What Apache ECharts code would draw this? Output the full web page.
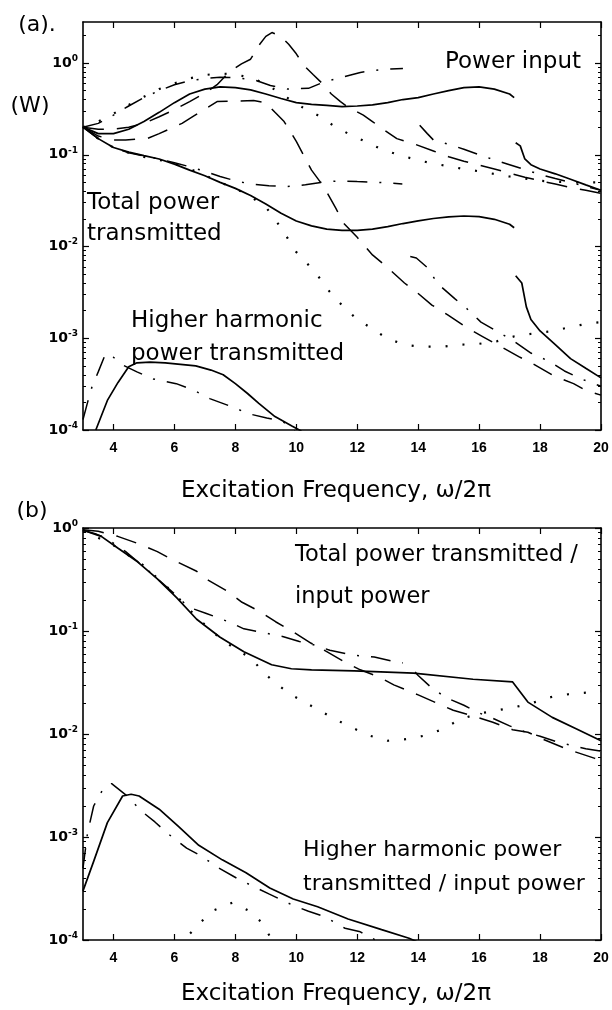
<!DOCTYPE html>
<html><head><meta charset="utf-8">
<script src="https://cdn.jsdelivr.net/npm/echarts@6/dist/echarts.min.js"></script>
<style>html,body{margin:0;padding:0;background:#fff}#c{width:612px;height:1010px}</style>
</head><body><div id="c"></div>
<script>
// ---------- tick values ----------
const freqTicks = [4, 6, 8, 10, 12, 14, 16, 18, 20];
const decadesA = [1e-4, 1e-3, 1e-2, 1e-1, 1];
const decadesB = [1e-4, 1e-3, 1e-2, 1e-1, 1];

// ---------- panel (a): power input ----------
const inSolidF = [3,3.5,4,4.5,5,5.5,6,6.5,7,7.5,8,8.5,9,9.5,10,10.5,11,11.5,12,12.5,13,13.5,14,14.5,15,15.5,16,16.5,17,17.15,17.17,17.2,17.35,17.5,17.7,18,18.5,19,19.5,20];
const inSolidV = [0.2,0.17,0.17,0.19,0.23,0.29,0.37,0.46,0.52,0.55,0.54,0.51,0.46,0.41,0.37,0.355,0.345,0.335,0.34,0.35,0.37,0.4,0.42,0.46,0.5,0.54,0.55,0.52,0.46,0.42,null,0.135,0.125,0.09,0.078,0.07,0.062,0.054,0.047,0.041];
const inDashF = [3,3.5,4,4.5,5,5.5,6,6.5,7,7.4,7.8,8.2,8.5,8.8,9.0,9.2,9.5,9.75,10.0,10.25,10.55,10.85,11.15,11.45,11.7,12.2,12.5,12.85,13.3,13.9,14.5,15,15.5,16,16.5,17,17.5,18,18.5,19,19.5,20];
const inDashV = [0.2,0.19,0.19,0.2,0.22,0.26,0.31,0.38,0.47,0.58,0.8,0.98,1.1,1.6,1.95,2.15,1.95,1.6,1.26,0.94,0.75,0.6,0.46,0.38,0.33,0.27,0.23,0.19,0.15,0.13,0.11,0.095,0.085,0.077,0.07,0.063,0.057,0.052,0.048,0.044,0.041,0.038];
const inDashDotF = [3,3.5,4,4.5,5,5.5,6,6.5,7,7.5,8,8.6,9.15,9.7,10.4,10.9,11.5,12.1,12.7,13.1,13.5,13.8,14.05,14.3,14.5,15,15.5,16,16.5,17,17.5,18,18.5,19,19.5,20];
const inDashDotV = [0.2,0.22,0.27,0.34,0.42,0.5,0.58,0.64,0.68,0.7,0.69,0.66,0.57,0.52,0.53,0.62,0.7,0.79,0.84,0.86,0.87,null,0.21,0.17,0.145,0.13,0.115,0.1,0.088,0.078,0.069,0.061,0.055,0.05,0.045,0.041];
const inDotF = [3,3.5,4,4.5,5,5.5,6,6.5,7,7.5,8,8.6,9.15,9.7,10.2,10.7,11.2,11.7,12.25,12.8,13.35,14,14.5,15,15.5,16,17,18,19,20];
const inDotV = [0.2,0.23,0.28,0.35,0.43,0.52,0.6,0.68,0.74,0.77,0.75,0.68,0.55,0.42,0.33,0.27,0.21,0.17,0.14,0.115,0.1,0.087,0.08,0.075,0.07,0.066,0.058,0.052,0.05,0.05];

// ---------- panel (a): total power transmitted ----------
const trSolidF = [3,3.5,4,4.5,5,5.5,6,6.5,7,7.5,8,8.5,9,9.5,10,10.5,11,11.5,12,12.5,13,13.5,14,14.5,15,15.5,16,16.5,17,17.15,17.17,17.2,17.4,17.55,17.7,18,18.5,19,19.5,20];
const trSolidV = [0.2,0.15,0.12,0.107,0.098,0.09,0.079,0.068,0.059,0.05,0.043,0.036,0.029,0.023,0.019,0.0168,0.0155,0.015,0.015,0.0155,0.0165,0.0178,0.019,0.0202,0.021,0.0215,0.0212,0.0198,0.0175,0.016,null,0.0048,0.004,0.0022,0.0016,0.0012,0.00085,0.0006,0.00047,0.00037];
const trDashF = [3,3.5,4,4.4,5.1,5.5,6.25,6.6,7.4,8.0,8.6,9.0,9.3,9.6,10,10.5,10.9,11.3,11.55,12,12.5,12.97,13.55,13.94,14.45,14.97,15.6,16.1,16.8,17.3,17.8,18.45,19.1,19.5,20];
const trDashV = [0.2,0.16,0.145,0.145,0.15,0.17,0.22,0.26,0.38,0.385,0.39,0.37,0.29,0.23,0.14,0.068,0.045,0.026,0.018,0.0126,0.0081,0.006,0.004,0.0032,0.0023,0.0018,0.0013,0.00105,0.00078,0.00063,0.00052,0.00039,0.00032,0.00027,0.00024];
const trDashDotF = [3,3.5,4,4.5,5,5.5,6,6.5,7,7.5,8,8.5,9.1,9.7,10.3,10.8,11.4,12,12.7,13.1,13.48,13.6,13.74,13.94,14.3,14.65,15.2,15.6,16.06,16.77,17.16,17.7,18.3,18.8,19.35,20];
const trDashDotV = [0.2,0.15,0.12,0.105,0.097,0.09,0.082,0.074,0.066,0.058,0.052,0.048,0.046,0.045,0.047,0.05,0.052,0.051,0.05,0.049,0.048,null,0.0078,0.0075,0.0059,0.0039,0.0027,0.0021,0.0015,0.0011,0.00092,0.00069,0.00056,0.00044,0.00036,0.0003];
const trDotF = [3,3.5,4,4.5,5,5.5,6,6.5,7,7.5,8,8.5,9,9.5,10,10.4,10.8,11.1,11.55,12,12.45,12.97,13.55,14.1,14.8,15.35,16,16.6,17.16,17.8,18.45,19,19.6,20];
const trDotV = [0.2,0.15,0.12,0.105,0.095,0.088,0.08,0.07,0.06,0.05,0.043,0.035,0.027,0.016,0.0087,0.0063,0.0044,0.0032,0.0022,0.0016,0.0013,0.001,0.00085,0.00081,0.00081,0.00085,0.00087,0.00093,0.00105,0.00113,0.0012,0.00133,0.00145,0.0015];

// ---------- panel (a): higher harmonic power transmitted ----------
const hhSolidF = [3.42,3.8,4.15,4.5,4.77,5.2,5.7,6.2,6.7,7.2,7.6,8.0,8.4,8.77,9.3,9.87,10.1,10.3];
const hhSolidV = [0.0001,0.00021,0.00033,0.00049,0.00054,0.00055,0.00054,0.00052,0.0005,0.00045,0.0004,0.00032,0.00025,0.000195,0.00014,0.00011,0.0001,0.00009];
const hhDashDotF = [3.0,3.15,3.3,3.5,3.74,4.0,4.26,4.77,5.3,6.06,6.65,7.16,7.87,8.45,9.03,9.55,9.9,10.2];
const hhDashDotV = [0.00013,0.0002,0.0003,0.00043,0.00068,0.00062,0.00052,0.00043,0.00036,0.00032,0.00027,0.00022,0.00018,0.00015,0.000135,0.000125,0.0001,0.00008];

// ---------- panel (b): total transmitted / input ----------
const rSolidF = [3,3.6,4.14,4.79,5.44,6.08,6.73,7.5,8.28,9.19,9.84,10.5,11.9,13.85,15.8,17.1,17.35,17.6,18.4,19.2,20];
const rSolidV = [0.95,0.83,0.64,0.47,0.32,0.21,0.13,0.087,0.063,0.047,0.043,0.042,0.041,0.039,0.034,0.032,0.0256,0.0204,0.0145,0.0112,0.0086];
const rDashF = [3,3.5,4.14,4.79,5.44,5.95,6.73,7.12,7.77,8.22,8.8,9.32,9.9,10.49,11.0,11.59,12.1,12.69,13.2,14,14.6,15.15,15.8,16.45,17.1,17.6,18.1,18.9,19.8,20];
const rDashV = [0.96,0.93,0.83,0.71,0.59,0.49,0.38,0.31,0.24,0.19,0.155,0.123,0.098,0.076,0.063,0.05,0.042,0.036,0.03,0.024,0.02,0.017,0.015,0.013,0.011,0.0104,0.0089,0.0071,0.0058,0.0055];
const rDashDotF = [3,3.4,3.75,4.4,5,5.5,6,6.47,7.05,7.77,8.28,8.8,9.58,10.1,10.6,11.1,11.9,12.56,13.27,13.5,13.7,13.9,14.0,14.5,15,15.5,16,16.5,17,17.5,18,18.5,19,19.5,20];
const rDashDotV = [0.95,0.88,0.8,0.59,0.42,0.31,0.23,0.17,0.148,0.123,0.105,0.098,0.088,0.079,0.073,0.065,0.058,0.056,0.05,0.049,null,0.04,0.037,0.027,0.022,0.019,0.016,0.014,0.012,0.0105,0.0095,0.0085,0.0078,0.0072,0.0068];
const rDotF = [3,4,5,6,6.5,7,7.5,8,8.54,8.87,9.32,9.84,10.75,11.26,11.78,12.43,13.0,13.6,14.18,14.76,15.4,16,16.6,17.1,17.74,18.4,19,19.8,20];
const rDotV = [0.95,0.68,0.43,0.23,0.16,0.115,0.085,0.067,0.054,0.041,0.031,0.024,0.017,0.014,0.0117,0.0096,0.0086,0.0089,0.0096,0.011,0.014,0.0158,0.017,0.018,0.02,0.023,0.0245,0.0256,0.026];

// ---------- panel (b): higher harmonic transmitted / input ----------
const hrSolidF = [3,3.35,3.8,4.3,4.58,4.84,5.5,6.14,6.8,7.57,8.35,9.13,9.9,10.7,11.7,12.8,13.7,14.0];
const hrSolidV = [0.0003,0.00058,0.00138,0.0025,0.0026,0.0025,0.00186,0.00126,0.00083,0.0006,0.00045,0.00032,0.00025,0.00021,0.00016,0.000126,0.000104,0.000095];
const hrDashDotF = [3,3.15,3.35,3.68,3.94,4.45,4.9,5.36,5.8,6.4,6.9,7.4,8.1,8.6,9.1,9.85,10.4,10.9,11.6,12.1,12.6];
const hrDashDotV = [0.0005,0.0011,0.002,0.003,0.0033,0.0025,0.0018,0.0014,0.00107,0.00078,0.00065,0.00051,0.00039,0.00033,0.00028,0.00022,0.00019,0.00017,0.00013,0.00012,0.0001];
const hrDotF = [6.1,6.47,6.86,7.3,7.9,8.4,8.87,9.2,9.5];
const hrDotV = [0.00009,0.000112,0.000149,0.000195,0.00023,0.000195,0.000148,0.0001,0.00008];

// ---------- build ----------
const pairs = (F, V) => F.map((f, i) => [f, V[i] == null ? '-' : V[i]]);
const FONT = 'DejaVu Sans';
const STY = {
  solid:   { color: '#000', width: 1.7, type: 'solid' },
  dash:    { color: '#000', width: 1.5, type: [21, 13] },
  dashdot: { color: '#000', width: 1.5, type: [20, 12, 2, 12] },
  dot:     { color: '#000', width: 2.2, type: [2, 15] }
};
function ser(F, V, sty, xi, yi) {
  return { type: 'line', xAxisIndex: xi, yAxisIndex: yi, data: pairs(F, V), showSymbol: false, symbol: 'none',
           lineStyle: STY[sty], clip: true, connectNulls: false, silent: true, animation: false, z: 3 };
}
function minorVals(maxV) {
  const out = [];
  for (let d = -4; d <= 0; d++) for (let k = 2; k <= 9; k++) { const v = k * Math.pow(10, d); if (v < maxV) out.push(v); }
  return out;
}
function decadeLabel(v) {
  const l = Math.log10(v), e = Math.round(l);
  if (Math.abs(l - e) > 1e-6) return '';
  return '{b|10}{s|' + (e === 0 ? '0' : '-' + (-e)) + '}';
}
const labRich = {
  b: { fontSize: 14, fontWeight: 'bold', fontFamily: FONT, color: '#000', lineHeight: 18 },
  s: { fontSize: 9, fontWeight: 'bold', fontFamily: FONT, color: '#000', lineHeight: 10, verticalAlign: 'top' }
};
const axLine = { show: true, lineStyle: { color: '#000', width: 1.6 } };

function xAxes(gi) {
  return [
    { type: 'value', gridIndex: gi, position: 'bottom', min: 3, max: 20, axisLine: axLine, splitLine: { show: false },
      axisTick: { inside: true, length: 6, customValues: freqTicks, lineStyle: { color: '#000', width: 1.2 } },
      axisLabel: { customValues: freqTicks, margin: 11, color: '#000', fontSize: 14, fontWeight: 'bold', fontFamily: 'Liberation Sans' } },
    { type: 'value', gridIndex: gi, position: 'top', min: 3, max: 20, axisLine: axLine, splitLine: { show: false },
      axisTick: { inside: true, length: 6, customValues: freqTicks, lineStyle: { color: '#000', width: 1.2 } },
      axisLabel: { show: false } }
  ];
}
function yAxes(gi, maxV, decs) {
  const base = { type: 'log', logBase: 10, gridIndex: gi, min: 1e-4, max: maxV, splitLine: { show: false } };
  return [
    Object.assign({}, base, { position: 'left', axisLine: axLine,
      axisTick: { inside: true, length: 6, customValues: decs, lineStyle: { color: '#000', width: 1.2 } },
      axisLabel: { customValues: decs, formatter: decadeLabel, rich: labRich, margin: 5 } }),
    Object.assign({}, base, { position: 'left', axisLine: { show: false },
      axisTick: { inside: true, length: 3, customValues: minorVals(maxV), lineStyle: { color: '#000', width: 1 } },
      axisLabel: { show: false } }),
    Object.assign({}, base, { position: 'right', axisLine: axLine,
      axisTick: { inside: true, length: 6, customValues: decs, lineStyle: { color: '#000', width: 1.2 } },
      axisLabel: { show: false } }),
    Object.assign({}, base, { position: 'right', axisLine: { show: false },
      axisTick: { inside: true, length: 3, customValues: minorVals(maxV), lineStyle: { color: '#000', width: 1 } },
      axisLabel: { show: false } })
  ];
}
function txt(x, y, text, align, size) {
  return { type: 'text', x: x, y: y, silent: true, z: 10,
    style: { text: text, fill: '#000', font: (size || 23) + 'px "' + FONT + '"', textAlign: align || 'left', align: align || 'left',
             textVerticalAlign: 'middle', verticalAlign: 'middle' } };
}

const option = {
  backgroundColor: '#fff',
  animation: false,
  grid: [
    { left: 83, top: 22, width: 518, height: 408, show: false },
    { left: 83, top: 528, width: 518, height: 412, show: false }
  ],
  xAxis: xAxes(0).concat(xAxes(1)),
  yAxis: yAxes(0, 2.8, decadesA).concat(yAxes(1, 1, decadesB)),
  series: [
    ser(inSolidF, inSolidV, 'solid', 0, 0),
    ser(inDashF, inDashV, 'dash', 0, 0),
    ser(inDashDotF, inDashDotV, 'dashdot', 0, 0),
    ser(inDotF, inDotV, 'dot', 0, 0),
    ser(trSolidF, trSolidV, 'solid', 0, 0),
    ser(trDashF, trDashV, 'dash', 0, 0),
    ser(trDashDotF, trDashDotV, 'dashdot', 0, 0),
    ser(trDotF, trDotV, 'dot', 0, 0),
    ser(hhSolidF, hhSolidV, 'solid', 0, 0),
    ser(hhDashDotF, hhDashDotV, 'dashdot', 0, 0),
    ser(rSolidF, rSolidV, 'solid', 2, 4),
    ser(rDashF, rDashV, 'dash', 2, 4),
    ser(rDashDotF, rDashDotV, 'dashdot', 2, 4),
    ser(rDotF, rDotV, 'dot', 2, 4),
    ser(hrSolidF, hrSolidV, 'solid', 2, 4),
    ser(hrDashDotF, hrDashDotV, 'dashdot', 2, 4),
    ser(hrDotF, hrDotV, 'dot', 2, 4)
  ],
  graphic: [
    txt(37, 25, '(a).', 'center', 22),
    txt(30, 106, '(W)', 'center', 22),
    txt(581, 62, 'Power input', 'right'),
    txt(87, 203, 'Total power'),
    txt(87, 234, 'transmitted'),
    txt(131, 321, 'Higher harmonic'),
    txt(131, 354, 'power transmitted'),
    txt(336, 491, 'Excitation Frequency, \u03c9/2\u03c0', 'center'),
    txt(32, 511, '(b)', 'center', 22),
    txt(295, 555, 'Total power transmitted /', 'left', 22.5),
    txt(295, 597, 'input power', 'left', 22.5),
    txt(303, 850, 'Higher harmonic power', 'left', 22),
    txt(303, 884, 'transmitted / input power', 'left', 22),
    txt(336, 994, 'Excitation Frequency, \u03c9/2\u03c0', 'center')
  ]
};
const chart = echarts.init(document.getElementById('c'), null, { renderer: 'canvas', width: 612, height: 1010 });
chart.setOption(option);
</script></body></html>
